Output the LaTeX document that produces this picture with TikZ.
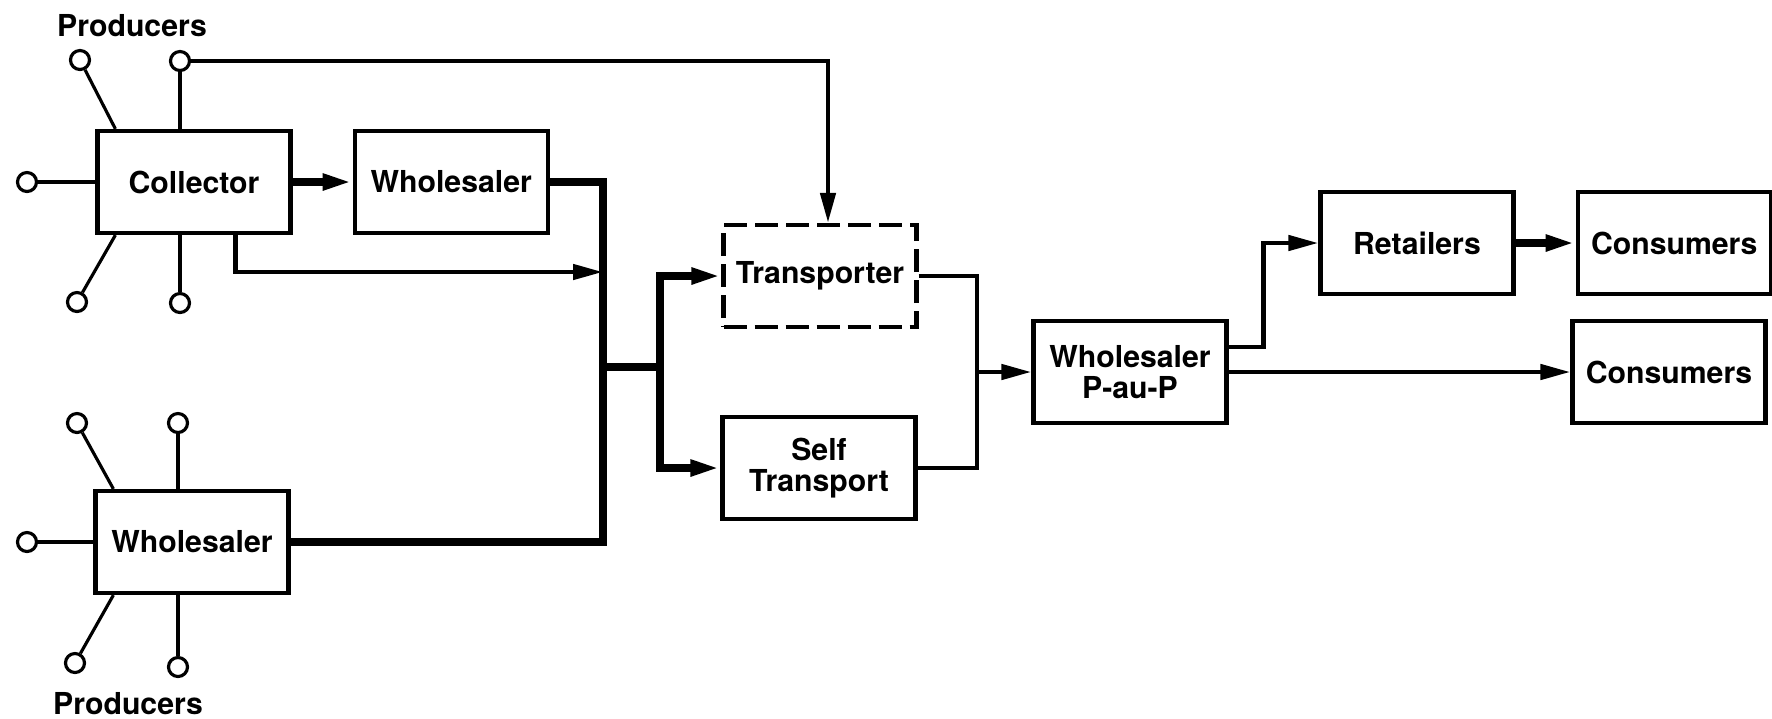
\documentclass[tikz,border=0pt]{standalone}
\usepackage{fontspec}
\setmainfont{TeX Gyre Heros}
\usetikzlibrary{positioning,arrows.meta}

\begin{document}
\begin{tikzpicture}[>={Triangle[length=3mm,width=1.5mm]},every node/.style={font=\fontsize{8.6}{9}\selectfont\bfseries},
  box/.style={draw,line width=1.2pt,minimum width=1.93cm,minimum height=1.02cm,align=center,inner sep=1pt},
  prod/.style={draw,circle,line width=0.9pt,minimum size=0.19cm,inner sep=0pt},
  spoke/.style={line width=0.9pt},
  link/.style={line width=1.3pt},
  heavy/.style={line width=2.2pt}]
\useasboundingbox (0,0) rectangle (17.72,-7.18);

\node[box] (col) at (1.94,-1.82) {Collector};
\node[box,right=0.6cm of col] (wh1) {Wholesaler};
\node[box] (wh2) at (1.92,-5.42) {Wholesaler};

\node[prod] (a1) at (0.80,-0.60) {};
\node[prod] (a2) at (1.80,-0.61) {};
\node[prod] (a3) at (0.27,-1.82) {};
\node[prod] (a4) at (0.77,-3.02) {};
\node[prod] (a5) at (1.80,-3.03) {};
\node[prod] (b1) at (0.77,-4.23) {};
\node[prod] (b2) at (1.78,-4.23) {};
\node[prod] (b3) at (0.27,-5.42) {};
\node[prod] (b4) at (0.75,-6.63) {};
\node[prod] (b5) at (1.78,-6.67) {};

\draw[spoke] (a1) -- ([xshift=2mm]col.north west);
\draw[spoke] (a2) -- (a2 |- col.north);
\draw[spoke] (a3) -- (col.west);
\draw[spoke] (a4) -- ([xshift=2mm]col.south west);
\draw[spoke] (a5) -- (a5 |- col.south);
\draw[spoke] (b1) -- ([xshift=2mm]wh2.north west);
\draw[spoke] (b2) -- (b2 |- wh2.north);
\draw[spoke] (b3) -- (wh2.west);
\draw[spoke] (b4) -- ([xshift=2mm]wh2.south west);
\draw[spoke] (b5) -- (b5 |- wh2.south);

\node (lab1) at (1.32,-0.26) {Producers};
\node (lab2) at (1.28,-7.04) {Producers};

\node[box,dash pattern=on 2.3mm off 0.8mm] (tr) at (8.20,-2.76) {Transporter};
\node[box] (st) at (8.19,-4.68) {Self\\Transport};
\node[box] (pap) at (11.30,-3.72) {Wholesaler\\P-au-P};
\node[box] (ret) at (14.17,-2.43) {Retailers};
\node[box,right=0.6cm of ret] (con1) {Consumers};
\node[box] (con2) at (16.69,-3.72) {Consumers};

\coordinate (bus) at (6.03,-3.67);
\coordinate (in1) at (6.03,-2.72);
\coordinate (spl) at (6.60,-3.67);
\coordinate (mrg) at (9.77,-3.72);

\draw[heavy,->] (col) -- (wh1);
\draw[link,->] (a2.east) -| ([xshift=0.08cm]tr.north);
\draw[link,->] ([xshift=-0.57cm]col.south east) |- (in1);
\draw[heavy] (wh1.east) -| (bus) |- (wh2.east);
\draw[heavy,->] (bus) -- (spl) |- (tr.west);
\draw[heavy,->] (spl) |- (st.west);
\draw[link] (tr.east) -| (mrg) |- (st.east);
\draw[link,->] (mrg) -- (pap);
\draw[link,->] ([yshift=0.25cm]pap.east) -- ++(0.35,0) |- (ret.west);
\draw[heavy,->] (ret) -- (con1);
\draw[link,->] (pap) -- (con2);
\end{tikzpicture}
\end{document}
